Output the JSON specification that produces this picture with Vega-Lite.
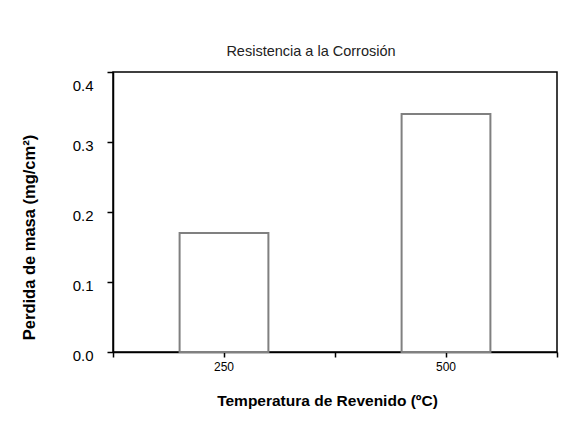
{
  "$schema": "https://vega.github.io/schema/vega-lite/v6.json",
  "width": 444,
  "height": 280,
  "autosize": {"type": "none"},
  "padding": {"left": 113, "top": 72, "right": 6, "bottom": 90},
  "background": "white",
  "title": {
    "text": "Resistencia a la Corrosión",
    "font": "Liberation Sans",
    "fontSize": 14.5,
    "fontWeight": "normal",
    "color": "#222222",
    "anchor": "middle",
    "frame": "group",
    "dx": -24,
    "baseline": "alphabetic",
    "offset": 1
  },
  "config": {
    "font": "Liberation Sans",
    "view": {"stroke": "black", "strokeWidth": 1.5}
  },
  "data": {
    "values": [
      {"temp": "250", "perdida": 0.17},
      {"temp": "500", "perdida": 0.34}
    ]
  },
  "layer": [
    {
      "mark": {"type": "bar", "fill": "white", "stroke": "#808080", "strokeWidth": 2, "width": {"band": 0.4}},
      "encoding": {
        "x": {
          "field": "temp",
          "type": "nominal",
          "sort": null,
          "scale": {"paddingInner": 0, "paddingOuter": 0},
          "axis": {
            "orient": "bottom",
            "title": "Temperatura de Revenido (ºC)",
            "labelAngle": 0,
            "labelFontSize": 12,
            "labelColor": "black",
            "labelPadding": 4,
            "tickSize": 5,
            "tickWidth": 1.5,
            "tickColor": "black",
            "domainColor": "black",
            "domainWidth": 1.5,
            "titleFontSize": 15.5,
            "titleFontWeight": "bold",
            "titleColor": "black",
            "titleX": 214,
            "titleY": 53,
            "titleBaseline": "alphabetic",
            "titleAlign": "center"
          }
        },
        "y": {
          "field": "perdida",
          "type": "quantitative",
          "scale": {"domain": [0, 0.4], "nice": false},
          "axis": {
            "values": [0, 0.1, 0.2, 0.3, 0.4],
            "format": ".1f",
            "grid": false,
            "labelFontSize": 15,
            "labelColor": "black",
            "labelPadding": 14,
            "labelFlush": false,
            "labelOffset": {"condition": {"test": "datum.value > 0.35", "value": 13}, "value": 3},
            "tickSize": 6,
            "tickWidth": 1.5,
            "tickColor": "black",
            "domainColor": "black",
            "domainWidth": 1.5,
            "title": "Perdida de masa (mg/cm²)",
            "titleFontSize": 16.5,
            "titleFontWeight": "bold",
            "titleColor": "black",
            "titleAngle": -90,
            "titleX": -84,
            "titleY": 165,
            "titleAlign": "center",
            "titleBaseline": "middle"
          }
        }
      }
    },
    {
      "mark": {"type": "bar", "opacity": 0},
      "encoding": {
        "x": {
          "field": "temp",
          "type": "nominal",
          "sort": null,
          "axis": {
            "orient": "bottom",
            "tickBand": "extent",
            "labels": false,
            "domain": false,
            "title": null,
            "tickSize": 5,
            "tickWidth": 1.5,
            "tickColor": "black"
          }
        }
      }
    }
  ],
  "resolve": {"axis": {"x": "independent"}}
}
